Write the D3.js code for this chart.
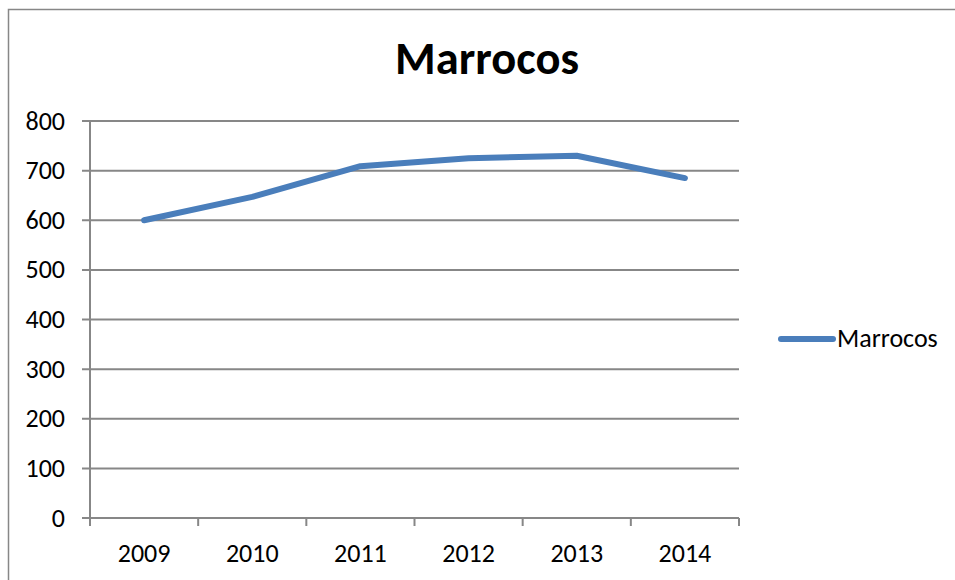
<!DOCTYPE html>
<html><head><meta charset="utf-8">
<script src="https://cdn.jsdelivr.net/npm/d3@7"></script>
<style>body{margin:0;background:#fff}svg{display:block}</style>
</head><body>
<script>
const categories = ["2009","2010","2011","2012","2013","2014"];
const values = [600, 647, 709, 725, 730, 685];
const yTicks = [0,100,200,300,400,500,600,700,800];
const seriesName = "Marrocos";
const title = "Marrocos";

(function () {
const W = 955, H = 580;
const svg = d3.select("body").append("svg").attr("width", W).attr("height", H);
const font = "Carlito, Calibri, 'Open Sans', 'Liberation Sans', sans-serif";

svg.append("rect").attr("x", 8.5).attr("y", 9.5).attr("width", W).attr("height", H)
  .attr("fill", "none").attr("stroke", "#878787").attr("stroke-width", 1.5);

const pLeft = 90, pRight = 739, pTop = 121, pBottom = 518;
const x = d3.scaleBand().domain(categories).range([pLeft, pRight]);
const y = d3.scaleLinear().domain([0, 800]).range([pBottom, pTop]);

svg.append("g").selectAll("line").data(yTicks).join("line")
  .attr("x1", pLeft - 8).attr("x2", pRight)
  .attr("y1", d => y(d)).attr("y2", d => y(d))
  .attr("stroke", "#878787").attr("stroke-width", 2);

svg.append("line").attr("x1", pLeft).attr("x2", pLeft).attr("y1", pTop).attr("y2", pBottom + 8)
  .attr("stroke", "#878787").attr("stroke-width", 2);

const bounds = categories.map(c => x(c)).concat([pRight]);
svg.append("g").selectAll("line").data(bounds).join("line")
  .attr("x1", d => d).attr("x2", d => d).attr("y1", pBottom).attr("y2", pBottom + 8)
  .attr("stroke", "#878787").attr("stroke-width", 2);

svg.append("g").selectAll("text").data(yTicks).join("text")
  .attr("x", 65).attr("y", d => y(d)).attr("dy", "0.33em")
  .attr("text-anchor", "end").attr("font-family", font).attr("font-size", 26)
  .attr("fill", "#000").text(d => d);

svg.append("g").selectAll("text").data(categories).join("text")
  .attr("x", d => x(d) + x.bandwidth() / 2).attr("y", 562)
  .attr("text-anchor", "middle").attr("font-family", font).attr("font-size", 26)
  .attr("fill", "#000").text(d => d);

const line = d3.line().x((d, i) => x(categories[i]) + x.bandwidth() / 2).y(d => y(d));
svg.append("path").datum(values).attr("d", line)
  .attr("fill", "none").attr("stroke", "#4a7ebb").attr("stroke-width", 6)
  .attr("stroke-linecap", "round").attr("stroke-linejoin", "round");

svg.append("text").attr("x", 487).attr("y", 74).attr("text-anchor", "middle")
  .attr("font-family", font).attr("font-weight", "bold").attr("font-size", 46.5)
  .attr("fill", "#000").text(title);

svg.append("line").attr("x1", 781).attr("x2", 833).attr("y1", 339).attr("y2", 339)
  .attr("stroke", "#4a7ebb").attr("stroke-width", 6).attr("stroke-linecap", "round");
svg.append("text").attr("x", 837).attr("y", 347)
  .attr("font-family", font).attr("font-size", 26).attr("fill", "#000").text(seriesName);
})();
</script>
</body></html>
